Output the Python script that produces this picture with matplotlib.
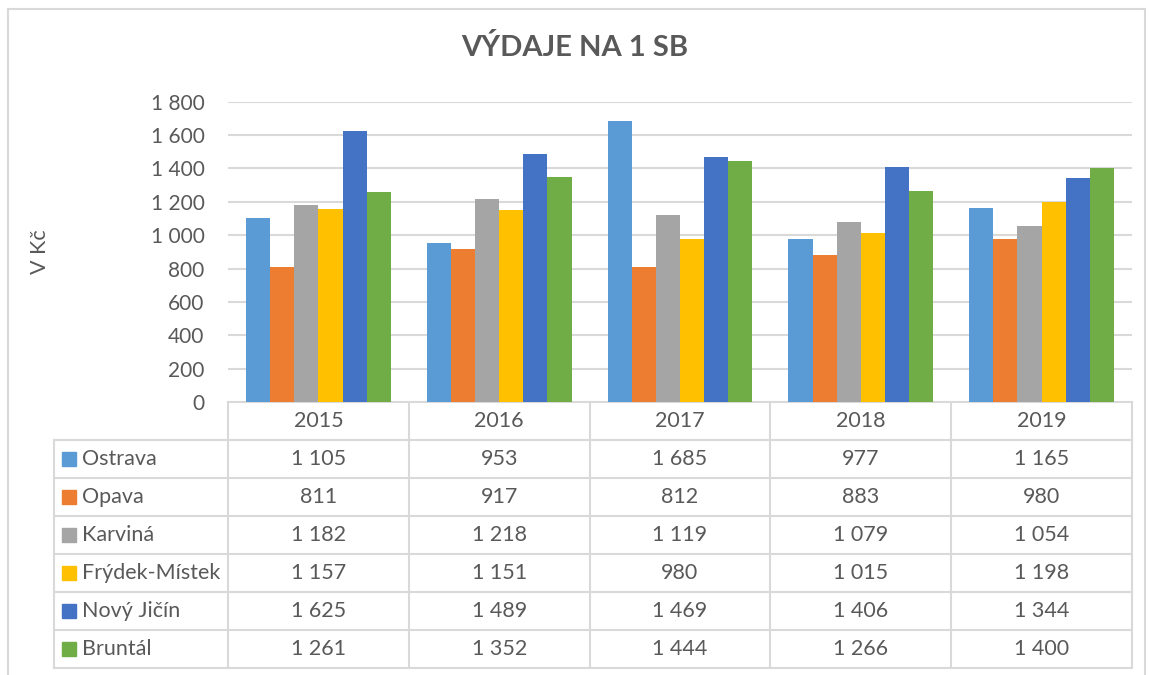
import numpy as np
import matplotlib.pyplot as plt
from matplotlib.patches import Rectangle
from matplotlib.lines import Line2D

plt.rcParams['font.family'] = ['Lato', 'DejaVu Sans']

# data
years = ['2015', '2016', '2017', '2018', '2019']
districts = ['Ostrava', 'Opava', 'Karviná', 'Frýdek-Místek', 'Nový Jičín', 'Bruntál']
ostrava = [1105, 953, 1685, 977, 1165]
opava = [811, 917, 812, 883, 980]
karvina = [1182, 1218, 1119, 1079, 1054]
frydek = [1157, 1151, 980, 1015, 1198]
novy_jicin = [1625, 1489, 1469, 1406, 1344]
bruntal = [1261, 1352, 1444, 1266, 1400]
series = [ostrava, opava, karvina, frydek, novy_jicin, bruntal]
colors = ['#5B9BD5', '#ED7D31', '#A5A5A5', '#FFC000', '#4472C4', '#70AD47']
yticks = [0, 200, 400, 600, 800, 1000, 1200, 1400, 1600, 1800]

TXT = '#595959'
GRID = '#D9D9D9'
W, H = 1149, 675


def fmt(v):
    return f'{v:,}'.replace(',', ' ')


fig = plt.figure(figsize=(W / 100, H / 100), dpi=100)

# plot area in pixels
px_l, px_r, px_t, px_b = 228, 1132, 101.7, 402.3
ax = fig.add_axes([px_l / W, 1 - px_b / H, (px_r - px_l) / W, (px_b - px_t) / H])

n = len(series)
bw = 1 / (n + 1.5)
x = np.arange(len(years))
for i, (vals, c) in enumerate(zip(series, colors)):
    ax.bar(x + (i - (n - 1) / 2) * bw, vals, width=bw, color=c, zorder=3)

ax.set_xlim(-0.5, len(years) - 0.5)
ax.set_ylim(0, 1800)
ax.set_yticks(yticks)
ax.set_yticklabels([fmt(v) for v in yticks], fontsize=15, color=TXT)
ax.set_xticks([])
ax.tick_params(axis='y', length=0, pad=17)
ax.grid(axis='y', color=GRID, linewidth=1.5, zorder=0)
for s in ax.spines.values():
    s.set_visible(False)

# overlay axes in pixel coordinates for table, title, frame
ov = fig.add_axes([0, 0, 1, 1], zorder=-1)
ov.set_xlim(0, W)
ov.set_ylim(H, 0)
ov.axis('off')

fig.text(575 / W, 1 - 47 / H, 'VÝDAJE NA 1 SB', ha='center', va='center',
         fontsize=21, fontweight='bold', color=TXT)
fig.text(40 / W, 1 - 252 / H, 'V Kč', ha='center', va='center', rotation=90,
         fontsize=15.5, color=TXT)

# outer frame
for xs, ys in [([8, 8], [9, H]), ([8, 1145], [9, 9]), ([1145, 1145], [9, H])]:
    ov.add_line(Line2D(xs, ys, color=GRID, linewidth=1.5))

# data table
tab_l = 54
row_h = (668 - 402.3) / (len(districts) + 1)
col_w = (px_r - px_l) / len(years)
rows_y = [px_b + k * row_h for k in range(len(districts) + 2)]
lw = 1.5
fs = 15.5

# horizontal lines
ov.add_line(Line2D([px_l, px_r], [rows_y[0], rows_y[0]], color=GRID, lw=lw))
for yy in rows_y[1:]:
    ov.add_line(Line2D([tab_l, px_r], [yy, yy], color=GRID, lw=lw))
# vertical lines
ov.add_line(Line2D([tab_l, tab_l], [rows_y[1], rows_y[-1]], color=GRID, lw=lw))
for j in range(len(years) + 1):
    xx = px_l + j * col_w
    ov.add_line(Line2D([xx, xx], [rows_y[0], rows_y[-1]], color=GRID, lw=lw))

for j, yr in enumerate(years):
    ov.text(px_l + (j + 0.5) * col_w, (rows_y[0] + rows_y[1]) / 2, yr,
            ha='center', va='center', fontsize=fs, color=TXT)

for i, (name, vals, c) in enumerate(zip(districts, series, colors)):
    yc = (rows_y[i + 1] + rows_y[i + 2]) / 2
    ov.add_patch(Rectangle((62, yc - 7), 14, 14, color=c))
    ov.text(82, yc, name, ha='left', va='center', fontsize=fs, color=TXT)
    for j, v in enumerate(vals):
        ov.text(px_l + (j + 0.5) * col_w, yc, fmt(v), ha='center', va='center',
                fontsize=fs, color=TXT)

fig.savefig('out.png', dpi=100, facecolor='white')
